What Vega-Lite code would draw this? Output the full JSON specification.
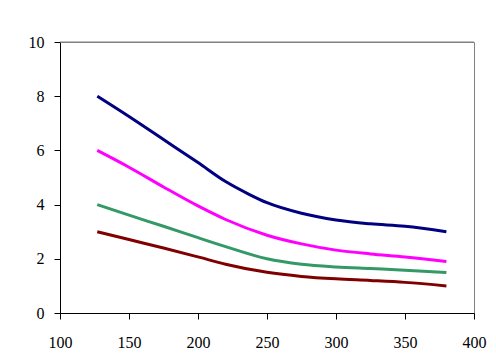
{
  "$schema": "https://vega.github.io/schema/vega-lite/v6.json",
  "width": 414,
  "height": 271,
  "autosize": {"type": "none"},
  "padding": {"left": 60, "top": 42, "right": 22, "bottom": 51},
  "background": "white",
  "config": {
    "view": {"stroke": "#808080", "strokeWidth": 1},
    "font": "Liberation Serif",
    "axis": {"labelFont": "Liberation Serif", "labelFontSize": 16, "labelColor": "black", "domainColor": "black", "tickColor": "black", "tickSize": 6, "grid": false, "title": null, "domainWidth": 1, "tickWidth": 1, "labelFlush": false, "labelOverlap": false}
  },
  "data": {"values": [
    {"x": 127, "y": 8.0, "s": "a"}, {"x": 150, "y": 7.25, "s": "a"}, {"x": 175, "y": 6.4, "s": "a"}, {"x": 200, "y": 5.55, "s": "a"}, {"x": 220, "y": 4.85, "s": "a"}, {"x": 237, "y": 4.38, "s": "a"}, {"x": 250, "y": 4.07, "s": "a"}, {"x": 275, "y": 3.68, "s": "a"}, {"x": 300, "y": 3.43, "s": "a"}, {"x": 325, "y": 3.29, "s": "a"}, {"x": 350, "y": 3.2, "s": "a"}, {"x": 380, "y": 3.0, "s": "a"},
    {"x": 127, "y": 6.0, "s": "b"}, {"x": 150, "y": 5.38, "s": "b"}, {"x": 175, "y": 4.65, "s": "b"}, {"x": 200, "y": 3.95, "s": "b"}, {"x": 220, "y": 3.45, "s": "b"}, {"x": 250, "y": 2.87, "s": "b"}, {"x": 275, "y": 2.55, "s": "b"}, {"x": 300, "y": 2.32, "s": "b"}, {"x": 325, "y": 2.18, "s": "b"}, {"x": 350, "y": 2.07, "s": "b"}, {"x": 380, "y": 1.9, "s": "b"},
    {"x": 127, "y": 4.0, "s": "c"}, {"x": 150, "y": 3.61, "s": "c"}, {"x": 175, "y": 3.2, "s": "c"}, {"x": 200, "y": 2.78, "s": "c"}, {"x": 220, "y": 2.45, "s": "c"}, {"x": 250, "y": 2.0, "s": "c"}, {"x": 275, "y": 1.8, "s": "c"}, {"x": 300, "y": 1.7, "s": "c"}, {"x": 325, "y": 1.64, "s": "c"}, {"x": 350, "y": 1.58, "s": "c"}, {"x": 380, "y": 1.49, "s": "c"},
    {"x": 127, "y": 3.0, "s": "d"}, {"x": 150, "y": 2.71, "s": "d"}, {"x": 175, "y": 2.4, "s": "d"}, {"x": 200, "y": 2.07, "s": "d"}, {"x": 220, "y": 1.8, "s": "d"}, {"x": 250, "y": 1.5, "s": "d"}, {"x": 275, "y": 1.35, "s": "d"}, {"x": 300, "y": 1.26, "s": "d"}, {"x": 325, "y": 1.2, "s": "d"}, {"x": 350, "y": 1.13, "s": "d"}, {"x": 380, "y": 1.0, "s": "d"}
  ]},
  "layer": [
    {
      "mark": {"type": "rule", "color": "#808080", "strokeWidth": 1},
      "data": {"values": [{"y": 10}]},
      "encoding": {"y": {"field": "y", "type": "quantitative", "scale": {"domain": [0, 10]}}}
    },
    {
      "mark": {"type": "line", "strokeWidth": 3, "interpolate": "monotone"},
      "encoding": {
        "x": {"field": "x", "type": "quantitative", "scale": {"domain": [100, 400], "nice": false}, "axis": {"values": [100, 150, 200, 250, 300, 350, 400], "labelPadding": 15, "labelFont": "Liberation Serif"}},
        "y": {"field": "y", "type": "quantitative", "scale": {"domain": [0, 10], "nice": false}, "axis": {"values": [0, 2, 4, 6, 8, 10], "labelPadding": 10, "labelFont": "Liberation Serif"}},
        "color": {"field": "s", "type": "nominal", "scale": {"domain": ["a", "b", "c", "d"], "range": ["#000080", "#FF00FF", "#339966", "#800000"]}, "legend": null}
      }
    }
  ]
}
